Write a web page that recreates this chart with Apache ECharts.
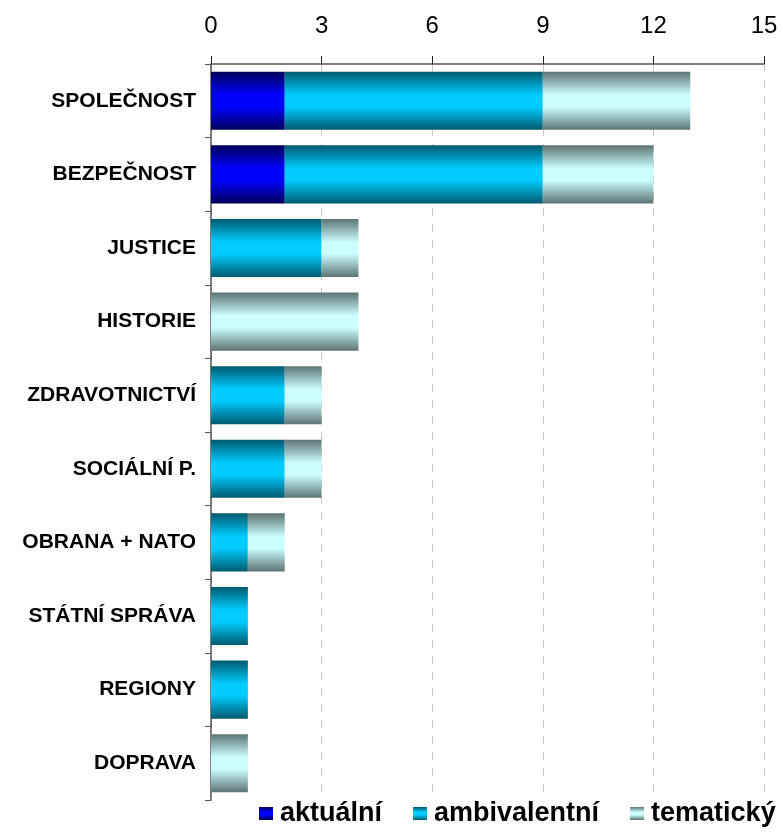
<!DOCTYPE html>
<html>
<head>
<meta charset="utf-8">
<script src="https://cdn.jsdelivr.net/npm/echarts@6/dist/echarts.min.js"></script>
<style>
  html, body { margin: 0; padding: 0; background: #fff; }
  #chart { width: 783px; height: 836px; }
</style>
</head>
<body>
<div id="chart"></div>
<script>
var categories = ['SPOLEČNOST', 'BEZPEČNOST', 'JUSTICE', 'HISTORIE', 'ZDRAVOTNICTVÍ',
                  'SOCIÁLNÍ P.', 'OBRANA + NATO', 'STÁTNÍ SPRÁVA', 'REGIONY', 'DOPRAVA'];
var aktualni     = [2, 2, 0, 0, 0, 0, 0, 0, 0, 0];
var ambivalentni = [7, 7, 3, 0, 2, 2, 1, 1, 1, 0];
var tematicky    = [4, 3, 1, 4, 1, 1, 1, 0, 0, 1];

// vertical "cylinder" gradient: dark edge, light middle, dark edge
function tube(edge, mid) {
    return new echarts.graphic.LinearGradient(0, 0, 0, 1, [
        { offset: 0, color: edge },
        { offset: 0.4, color: mid },
        { offset: 0.6, color: mid },
        { offset: 1, color: edge }
    ]);
}

var myChart = echarts.init(document.getElementById('chart'));

function bar(name, data, color) {
    return {
        name: name,
        type: 'bar',
        stack: 'total',
        barCategoryGap: '21%',
        data: data,
        itemStyle: { color: color },
        emphasis: { disabled: true }
    };
}

var option = {
    backgroundColor: '#fff',
    animation: false,
    grid: { left: 211, right: 19, top: 64, bottom: 36 },
    legend: {
        bottom: 9,
        left: 259,
        width: 524,
        padding: 0,
        itemWidth: 14,
        itemHeight: 13,
        itemGap: 31,
        icon: 'rect',
        textStyle: { fontFamily: 'Liberation Sans, Arial', fontWeight: 'bold', fontSize: 27, color: '#000', padding: [0, 0, 0, 2] },
        data: ['aktuální', 'ambivalentní', 'tematický']
    },
    xAxis: {
        type: 'value',
        position: 'top',
        min: 0,
        max: 15,
        interval: 3,
        axisLine: { show: true, lineStyle: { color: '#555', width: 1.5 } },
        axisTick: { show: true, inside: false, length: 8, lineStyle: { color: '#222' } },
        axisLabel: { fontFamily: 'Liberation Sans, Arial', fontSize: 24, color: '#000', margin: 26 },
        splitLine: { show: true, lineStyle: { color: '#c8c8c8', type: [8, 8] } }
    },
    yAxis: {
        type: 'category',
        inverse: true,
        data: categories,
        axisLine: { show: true, lineStyle: { color: '#555', width: 1.5 } },
        axisTick: { show: true, length: 6, lineStyle: { color: '#555' } },
        axisLabel: { fontFamily: 'Liberation Sans, Arial', fontWeight: 'bold', fontSize: 21, color: '#000', margin: 15 }
    },
    series: [
        bar('aktuální', aktualni, tube('#00005a', '#0000ff')),
        bar('ambivalentní', ambivalentni, tube('#005a6e', '#00ccff')),
        bar('tematický', tematicky, tube('#5e7474', '#ccffff'))
    ]
};

myChart.setOption(option);
window.onresize = myChart.resize;
</script>
</body>
</html>
